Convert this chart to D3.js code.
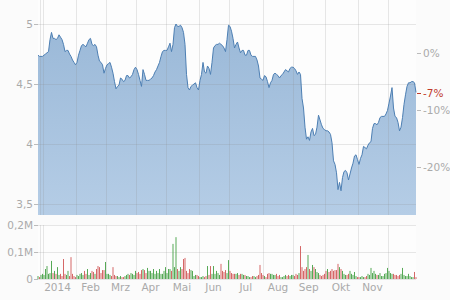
<!DOCTYPE html>
<html><head><meta charset="utf-8">
<script src="https://cdn.jsdelivr.net/npm/d3@7"></script>
<style>
html,body{margin:0;padding:0;background:#fbfbfb;}
svg{display:block;}
text{font-family:"DejaVu Sans",sans-serif;font-size:10.5px;fill:#aaa;}
</style></head>
<body><svg id="c" width="450" height="300"></svg>
<script>
// closing prices per trading day
const prices = [
4.74,4.73,4.73,4.73,4.74,4.75,4.76,4.77,4.87,4.93,4.88,4.88,4.87,4.88,4.91,4.89,4.87,4.83,4.77,4.78,
4.78,4.75,4.73,4.70,4.68,4.66,4.68,4.74,4.78,4.82,4.83,4.82,4.81,4.84,4.87,4.88,4.83,4.82,4.83,4.81,
4.74,4.69,4.68,4.66,4.59,4.63,4.66,4.67,4.68,4.64,4.59,4.52,4.46,4.48,4.49,4.55,4.54,4.52,4.53,4.57,
4.57,4.55,4.56,4.58,4.62,4.64,4.62,4.58,4.53,4.48,4.62,4.58,4.53,4.53,4.53,4.54,4.55,4.57,4.60,4.62,
4.65,4.68,4.73,4.77,4.78,4.78,4.78,4.81,4.84,4.77,4.83,4.97,5.00,4.98,4.98,4.99,4.97,4.93,4.83,4.58,
4.47,4.45,4.48,4.49,4.50,4.51,4.47,4.45,4.53,4.58,4.68,4.60,4.59,4.65,4.63,4.58,4.68,4.80,4.82,4.83,
4.83,4.84,4.83,4.82,4.80,4.77,4.87,4.99,4.98,4.94,4.88,4.80,4.83,4.85,4.80,4.76,4.78,4.78,4.74,4.74,
4.78,4.78,4.74,4.73,4.73,4.73,4.70,4.65,4.55,4.54,4.53,4.57,4.56,4.52,4.47,4.51,4.53,4.58,4.59,4.58,
4.57,4.55,4.57,4.58,4.60,4.62,4.61,4.60,4.63,4.64,4.64,4.63,4.61,4.58,4.60,4.58,4.38,4.30,4.14,4.04,
4.06,4.03,4.10,4.13,4.07,4.08,4.14,4.24,4.20,4.16,4.13,4.12,4.11,4.11,4.10,4.08,4.01,3.86,3.83,3.76,
3.62,3.68,3.61,3.72,3.77,3.78,3.76,3.70,3.75,3.80,3.84,3.90,3.91,3.87,3.83,3.88,3.91,3.98,3.97,3.96,
3.99,4.01,4.02,4.13,4.17,4.17,4.16,4.18,4.22,4.23,4.23,4.23,4.25,4.28,4.34,4.40,4.47,4.30,4.23,4.22,
4.18,4.11,4.14,4.22,4.33,4.41,4.48,4.51,4.51,4.52,4.52,4.51,4.43
];
// volume per trading day, thousands of shares
const volumes = [
11,7,15,19,15,37,48,19,22,67,22,30,19,44,15,19,11,74,19,15,
30,11,81,19,11,7,15,11,19,22,15,30,19,37,15,22,30,26,19,37,
48,44,22,33,33,63,19,19,15,11,44,15,11,11,7,11,7,7,11,15,
19,15,22,19,15,30,22,26,19,33,37,33,22,41,30,30,22,37,19,30,
22,37,19,19,30,44,22,37,37,30,130,44,155,37,30,44,37,74,78,30,
22,37,33,30,11,15,15,11,7,7,11,7,11,48,15,48,19,48,19,30,
22,15,56,30,26,33,22,70,30,22,19,19,19,22,15,19,19,15,15,11,
11,7,7,11,11,7,11,15,52,22,15,11,7,19,22,19,19,15,15,19,
11,15,7,7,11,15,11,15,11,15,15,11,19,15,22,122,44,30,37,44,
89,37,30,52,44,37,26,22,15,11,15,19,30,37,26,30,37,30,33,33,
56,44,37,30,19,15,15,19,30,19,15,26,11,7,7,7,11,7,7,11,
19,15,41,22,30,19,15,15,22,11,11,19,22,41,30,22,19,19,15,15,
11,15,19,41,15,11,11,19,11,7,7,26,7
];
const priceTicks = [5, 4.5, 4, 3.5];
const priceTickLabels = ["5", "4,5", "4", "3,5"];
const pctTicks = [0, -10, -20];
const pctTickLabels = ["0%", "-10%", "-20%"];
const lastPct = -7;
const lastPctLabel = "-7%";
const volTicks = [0, 100, 200];
const volTickLabels = ["0", "0,1M", "0,2M"];
const monthStarts = [1, 3, 25, 45, 65, 85, 107, 127, 150, 170, 191, 213, 233];
const monthLabels = ["2014", "Feb", "Mrz", "Apr", "Mai", "Jun", "Jul", "Aug", "Sep", "Okt", "Nov"];
const labelBounds = [1, 25, 45, 65, 85, 107, 127, 150, 170, 191, 213, 233];
const basePrice = 4.758;

const svg = d3.select("#c");
const L = 38, R = 416, mainTop = 0, mainBot = 215, volTop = 225, volBot = 279;

const x = d3.scaleLinear().domain([0, prices.length - 1]).range([L, R]);
const y = d3.scaleLinear().domain([3.4083, 5.2]).range([mainBot, mainTop]);
const yPct = d3.scaleLinear().domain([(3.4083/basePrice - 1) * 100, (5.2/basePrice - 1) * 100]).range([mainBot, mainTop]);
const yv = d3.scaleLinear().domain([0, 200]).range([volBot, volTop]);

const defs = svg.append("defs");
const g = defs.append("linearGradient").attr("id","ag").attr("gradientUnits","userSpaceOnUse")
  .attr("x1",0).attr("x2",0).attr("y1",mainTop).attr("y2",mainBot);
g.append("stop").attr("offset","0%").attr("stop-color","#97b6d6");
g.append("stop").attr("offset","100%").attr("stop-color","#b5cde6");

svg.append("rect").attr("x",L).attr("y",mainTop).attr("width",R-L).attr("height",mainBot-mainTop).attr("fill","#fdfdfd");
svg.append("rect").attr("x",L).attr("y",volTop).attr("width",R-L).attr("height",volBot-volTop).attr("fill","#fdfdfd");

const area = d3.area().x((d,i)=>x(i)).y0(mainBot).y1(d=>y(d));
svg.append("path").datum(prices).attr("d",area).attr("fill","url(#ag)");

const grid = svg.append("g").attr("stroke","#8a8a8a").attr("stroke-opacity",0.2).attr("shape-rendering","crispEdges");
monthStarts.forEach(m=>{
  grid.append("line").attr("x1",Math.round(x(m))+0.5).attr("x2",Math.round(x(m))+0.5).attr("y1",mainTop).attr("y2",mainBot);
  grid.append("line").attr("x1",Math.round(x(m))+0.5).attr("x2",Math.round(x(m))+0.5).attr("y1",volTop).attr("y2",volBot);
});
priceTicks.forEach(t=>{
  grid.append("line").attr("x1",L).attr("x2",R).attr("y1",Math.round(y(t))+0.5).attr("y2",Math.round(y(t))+0.5);
});
volTicks.forEach(t=>{
  grid.append("line").attr("x1",L).attr("x2",R).attr("y1",Math.round(yv(t))+0.5).attr("y2",Math.round(yv(t))+0.5);
});

const line = d3.line().x((d,i)=>x(i)).y(d=>y(d));
svg.append("path").datum(prices).attr("d",line).attr("fill","none").attr("stroke","#4d7fb3").attr("stroke-width",1).attr("stroke-linejoin","round");

svg.append("g").selectAll("rect").data(volumes).join("rect")
  .attr("x",(d,i)=>x(i)-0.5).attr("width",1)
  .attr("y",d=>yv(d)).attr("height",d=>volBot-yv(d))
  .attr("fill",(d,i)=> (i===0 || prices[i]>=prices[i-1]) ? "#44a044" : "#d05656")
  .attr("fill-opacity",0.9);

const ax = svg.append("g");
priceTicks.forEach((t,k)=>{
  const yy = Math.round(y(t))+0.5;
  ax.append("line").attr("x1",L-4).attr("x2",L).attr("y1",yy).attr("y2",yy).attr("stroke","#bbb");
  ax.append("text").attr("x",L-5).attr("y",yy).attr("dy","0.35em").attr("text-anchor","end").text(priceTickLabels[k]);
});
volTicks.forEach((t,k)=>{
  const yy = Math.round(yv(t))+0.5;
  ax.append("line").attr("x1",L-4).attr("x2",L).attr("y1",yy).attr("y2",yy).attr("stroke","#bbb");
  ax.append("text").attr("x",L-5).attr("y",yy).attr("dy","0.35em").attr("text-anchor","end").text(volTickLabels[k]);
});
pctTicks.forEach((t,k)=>{
  const yy = Math.round(yPct(t))+0.5;
  ax.append("line").attr("x1",R+1).attr("x2",R+5).attr("y1",yy).attr("y2",yy).attr("stroke","#bbb");
  ax.append("text").attr("x",R+7).attr("y",yy).attr("dy","0.35em").text(pctTickLabels[k]);
});
{
  const yy = Math.round(yPct(lastPct))+0.5;
  ax.append("line").attr("x1",R+1).attr("x2",R+5).attr("y1",yy).attr("y2",yy).attr("stroke","#c0392b");
  ax.append("text").attr("x",R+7).attr("y",yy).attr("dy","0.35em").style("fill","#c0392b").text(lastPctLabel);
}
monthLabels.forEach((lab,k)=>{
  const cx = (x(labelBounds[k]) + x(labelBounds[k+1]))/2;
  ax.append("text").attr("x",cx).attr("y",291).attr("text-anchor","middle").text(lab);
});
</script></body></html>
